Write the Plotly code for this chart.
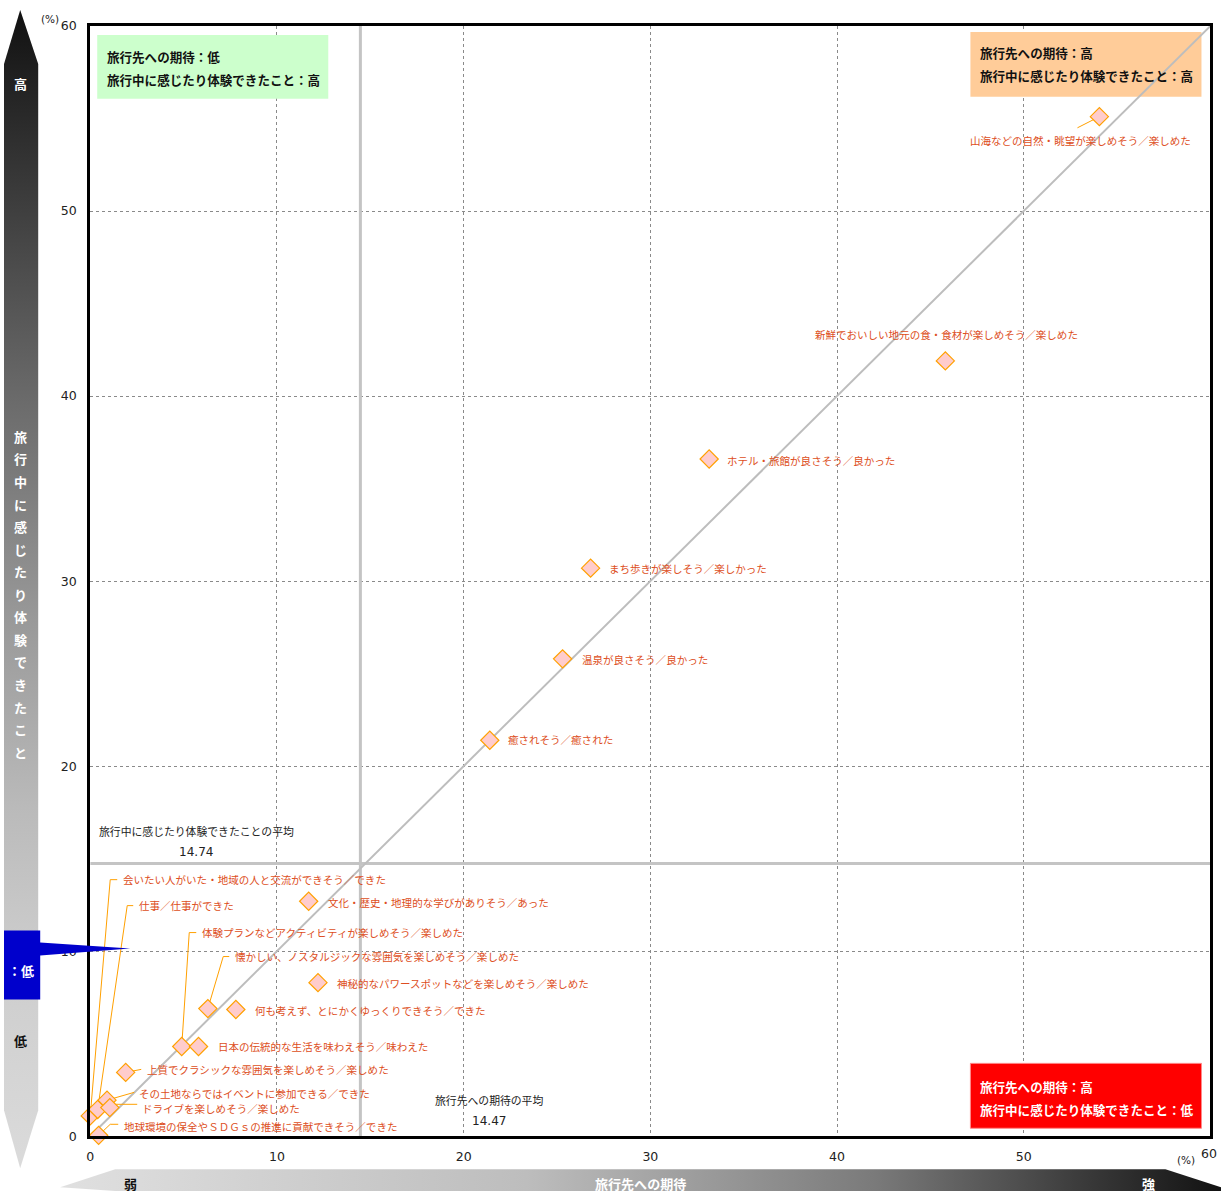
import plotly.graph_objects as go

# ---------------- data ----------------
items = [
    "山海などの自然・眺望が楽しめそう／楽しめた",
    "新鮮でおいしい地元の食・食材が楽しめそう／楽しめた",
    "ホテル・旅館が良さそう／良かった",
    "まち歩きが楽しそう／楽しかった",
    "温泉が良さそう／良かった",
    "癒されそう／癒された",
    "文化・歴史・地理的な学びがありそう／あった",
    "神秘的なパワースポットなどを楽しめそう／楽しめた",
    "懐かしい、ノスタルジックな雰囲気を楽しめそう／楽しめた",
    "何も考えず、とにかくゆっくりできそう／できた",
    "体験プランなどアクティビティが楽しめそう／楽しめた",
    "日本の伝統的な生活を味わえそう／味わえた",
    "上質でクラシックな雰囲気を楽しめそう／楽しめた",
    "会いたい人がいた・地域の人と交流ができそう／できた",
    "仕事／仕事ができた",
    "その土地ならではイベントに参加できる／できた",
    "ドライブを楽しめそう／楽しめた",
    "地球環境の保全やＳＤＧｓの推進に貢献できそう／できた",
]
expectation = [54.05, 45.8, 33.15, 26.8, 25.3, 21.4, 11.7, 12.2, 6.3, 7.8,
               4.9, 5.8, 1.9, 0.0, 0.4, 0.9, 1.05, 0.45]
experience = [55.1, 41.9, 36.6, 30.7, 25.8, 21.4, 12.7, 8.3, 6.9, 6.85,
              4.85, 4.85, 3.45, 1.1, 1.45, 1.95, 1.55, 0.05]
avg_expectation = 14.47
avg_experience = 14.74
axis_ticks = [0, 10, 20, 30, 40, 50, 60]
x_tick_text = ["0", "10", "20", "30", "40", "50", ""]   # last one drawn as annotation
axis_range = [0, 60]

quad_tl = ["旅行先への期待：低", "旅行中に感じたり体験できたこと：高"]
quad_tr = ["旅行先への期待：高", "旅行中に感じたり体験できたこと：高"]
quad_br = ["旅行先への期待：高", "旅行中に感じたり体験できたこと：低"]
y_title = "旅行中に感じたり体験できたこと"
x_title = "旅行先への期待"

# ---------------- canvas geometry ----------------
W, H = 1221, 1198
# the photographed page maps figure px f to picture px  p = A + S*f
AX, SX = 3.8, 0.9965
AY, SY = 6.0, 0.989
# target frame of the plot area in picture px
PX_L, PX_R, PX_B, PX_T = 90, 1210, 1136, 24
X2_RANGE = [AX, AX + SX * W]
Y2_RANGE = [AY + SY * H, AY]

def fx(p):
    return (p - AX) / SX

def fy(p):
    return (p - AY) / SY

def px_x(p):
    return (p - PX_L) / (PX_R - PX_L) * (axis_range[1] - axis_range[0])

def px_y(p):
    return (PX_B - p) / (PX_B - PX_T) * (axis_range[1] - axis_range[0])

# label placement (picture px): text x, text y, anchor, leader points
label_layout = [
    (1080, 139, "center", [(1077, 126)]),
    (946, 333, "center", None),
    (725, 459, "left", None),
    (607, 567, "left", None),
    (580, 658, "left", None),
    (506, 739, "left", None),
    (326, 902, "left", None),
    (335, 983, "left", None),
    (233, 956, "left", [(229, 956), (223, 956)]),
    (253, 1010, "left", None),
    (200, 932, "left", [(196, 932), (189, 932)]),
    (216, 1046, "left", None),
    (145, 1069, "left", [(141, 1069)]),
    (121, 879, "left", [(117, 879), (110, 879)]),
    (137, 905, "left", [(133, 905), (127, 905)]),
    (137, 1093, "left", [(134, 1092)]),
    (140, 1108, "left", [(137, 1104), (116, 1104)]),
    (122, 1126, "left", [(118, 1124), (110, 1124)]),
]

LABEL_COLOR = "#DD4E22"
JP = "Noto Sans CJK JP"
NUM = "DejaVu Sans"
FS = 1 / SX  # font compensation

fig = go.Figure()

# average lines and diagonal
fig.add_trace(go.Scatter(x=axis_range, y=[avg_experience, avg_experience], mode="lines",
                         line=dict(color="#c4c4c4", width=3), hoverinfo="skip"))
fig.add_trace(go.Scatter(x=[avg_expectation, avg_expectation], y=axis_range, mode="lines",
                         line=dict(color="#c4c4c4", width=3), hoverinfo="skip"))
fig.add_trace(go.Scatter(x=axis_range, y=axis_range, mode="lines",
                         line=dict(color="#bdbdbd", width=2), hoverinfo="skip"))

# leader lines
for i, (tx, ty, anc, leader) in enumerate(label_layout):
    if leader:
        xs = [px_x(p[0]) for p in leader] + [expectation[i]]
        ys = [px_y(p[1]) for p in leader] + [experience[i]]
        fig.add_trace(go.Scatter(x=xs, y=ys, mode="lines",
                                 line=dict(color="#FFA000", width=1),
                                 hoverinfo="skip", cliponaxis=False))

# markers
fig.add_trace(go.Scatter(
    x=expectation, y=experience, mode="markers", text=items,
    marker=dict(symbol="diamond", size=14, color="#FFCCCC",
                line=dict(color="#FFA000", width=1.2)),
    cliponaxis=False, hovertemplate="%{text}<br>%{x}, %{y}<extra></extra>"))

# ---------------- decorations on a pixel overlay (kept inside the figure) ----------------
x_lo, x_hi = X2_RANGE
y_hi = Y2_RANGE[0]
left_arrow_x = [20, 38, 38, 20, x_lo, x_lo, 20]
left_arrow_y = [8, 62, 1110, 1168, 1110, 62, 8]
fig.add_trace(go.Scatter(
    x=left_arrow_x, y=left_arrow_y, xaxis="x2", yaxis="y2", mode="lines",
    fill="toself", line=dict(width=0, color="rgba(0,0,0,0)"),
    fillgradient=dict(type="vertical", start=8, stop=1168,
                      colorscale=[[0, "#111111"], [0.33, "#6a6a6a"], [0.52, "#999999"],
                                  [0.68, "#bababa"], [0.8, "#cccccc"], [1, "#dcdcdc"]]),
    hoverinfo="skip"))

bottom_arrow_x = [60, 115, 1165, x_hi, x_hi, 115, 60]
bottom_arrow_y = [1187, 1169, 1169, 1169 + (x_hi - 1165) * 18 / 55, y_hi, y_hi, 1187]
fig.add_trace(go.Scatter(
    x=bottom_arrow_x, y=bottom_arrow_y, xaxis="x2", yaxis="y2", mode="lines",
    fill="toself", line=dict(width=0, color="rgba(0,0,0,0)"),
    fillgradient=dict(type="horizontal", start=60, stop=1220,
                      colorscale=[[0, "#e0e0e0"], [0.4, "#bdbdbd"], [0.7, "#7a7a7a"],
                                  [0.9, "#333333"], [1, "#111111"]]),
    hoverinfo="skip"))

shapes = []
shapes.append(dict(type="rect", xref="x", yref="y", layer="between",
                   x0=px_x(97), x1=px_x(328), y0=px_y(97), y1=px_y(33),
                   fillcolor="#CCFFCC", line=dict(width=0)))
shapes.append(dict(type="rect", xref="x", yref="y", layer="between",
                   x0=px_x(970), x1=px_x(1201), y0=px_y(95), y1=px_y(30),
                   fillcolor="#FFCC99", line=dict(width=0)))
shapes.append(dict(type="rect", xref="x", yref="y", layer="between",
                   x0=px_x(970), x1=px_x(1201), y0=px_y(1128), y1=px_y(1063),
                   fillcolor="#FF0000", line=dict(width=1, color="#ff8a8a")))
shapes.append(dict(type="path", xref="x2", yref="y2", layer="above",
                   path=(f"M{x_lo},930 L40,930 L40,942 L130,948 L40,955 L40,999 "
                         f"L{x_lo},999 Z"),
                   fillcolor="#0000CC", line=dict(width=0)))

ann = []
def a(x, y, text, size=11, color="#222", family=JP, xanchor="center", bold=False):
    ann.append(dict(x=x, y=y, xref="x2", yref="y2", text=f"<b>{text}</b>" if bold else text,
                    showarrow=False, xanchor=xanchor, yanchor="middle",
                    font=dict(size=size * FS, color=color, family=family)))

for i, (tx, ty, anc, leader) in enumerate(label_layout):
    a(tx, ty, items[i], size=10.5, color=LABEL_COLOR, xanchor=anc)

for k, t in enumerate(quad_tl):
    a(105, 55 + 23 * k, t, size=12.5, color="#111", xanchor="left", bold=True)
for k, t in enumerate(quad_tr):
    a(978, 51 + 23 * k, t, size=12.5, color="#111", xanchor="left", bold=True)
for k, t in enumerate(quad_br):
    a(978, 1086 + 23 * k, t, size=12.5, color="#ffffff", xanchor="left", bold=True)

a(196, 830, "旅行中に感じたり体験できたことの平均", size=10.8, color="#222")
a(196, 851, f"{avg_experience:.2f}", size=12, color="#222", family=NUM)
a(489, 1100, "旅行先への期待の平均", size=10.8, color="#222")
a(489, 1121, f"{avg_expectation:.2f}", size=12, color="#222", family=NUM)

a(50, 17, "(%)", size=10.5, color="#222", family=NUM)
a(1186, 1160, "(%)", size=10.5, color="#222", family=NUM)
a(1209, 1153, str(axis_ticks[-1]), size=12.5, color="#222", family=NUM)

a(20, 82, "高", size=13, color="#ffffff", bold=True)
for k, ch in enumerate(y_title):
    a(20, 435 + 22.6 * k, ch, size=13, color="#ffffff", bold=True)
a(20, 1040, "低", size=13, color="#111", bold=True)
a(21, 970, "：低", size=13, color="#ffffff", bold=True)

a(130, 1183, "弱", size=13, color="#111", bold=True)
a(640, 1183, x_title, size=13, color="#ffffff", bold=True)
a(1148, 1183, "強", size=13, color="#ffffff", bold=True)

fig.update_layout(
    width=W, height=H, margin=dict(l=0, r=0, t=0, b=0), autosize=False,
    paper_bgcolor="white", plot_bgcolor="rgba(0,0,0,0)",
    showlegend=False, shapes=shapes, annotations=ann,
    xaxis=dict(domain=[fx(PX_L) / W, fx(PX_R) / W], range=axis_range,
               tickvals=axis_ticks, ticktext=x_tick_text,
               showgrid=True, gridcolor="#8a8a8a", griddash="dot", gridwidth=1,
               showline=True, linecolor="black", linewidth=3, mirror=True,
               zeroline=False, ticks="", ticklabelstandoff=7,
               tickfont=dict(family=NUM, size=12.5 * FS, color="#222"), fixedrange=True),
    yaxis=dict(domain=[1 - fy(PX_B) / H, 1 - fy(PX_T) / H], range=axis_range,
               tickvals=axis_ticks,
               showgrid=True, gridcolor="#8a8a8a", griddash="dot", gridwidth=1,
               showline=True, linecolor="black", linewidth=3, mirror=True,
               zeroline=False, ticks="", ticklabelstandoff=8, ticklabeloverflow="allow",
               tickfont=dict(family=NUM, size=12.5 * FS, color="#222"), fixedrange=True),
    xaxis2=dict(domain=[0, 1], range=X2_RANGE, visible=False, anchor="y2",
                fixedrange=True),
    yaxis2=dict(domain=[0, 1], range=Y2_RANGE, visible=False, anchor="x2",
                fixedrange=True),
)

fig.write_html(
    "out.html",
    config={"displayModeBar": False},
    post_script=("document.body.style.margin='0';"
                 "document.documentElement.style.overflow='hidden';"),
)
